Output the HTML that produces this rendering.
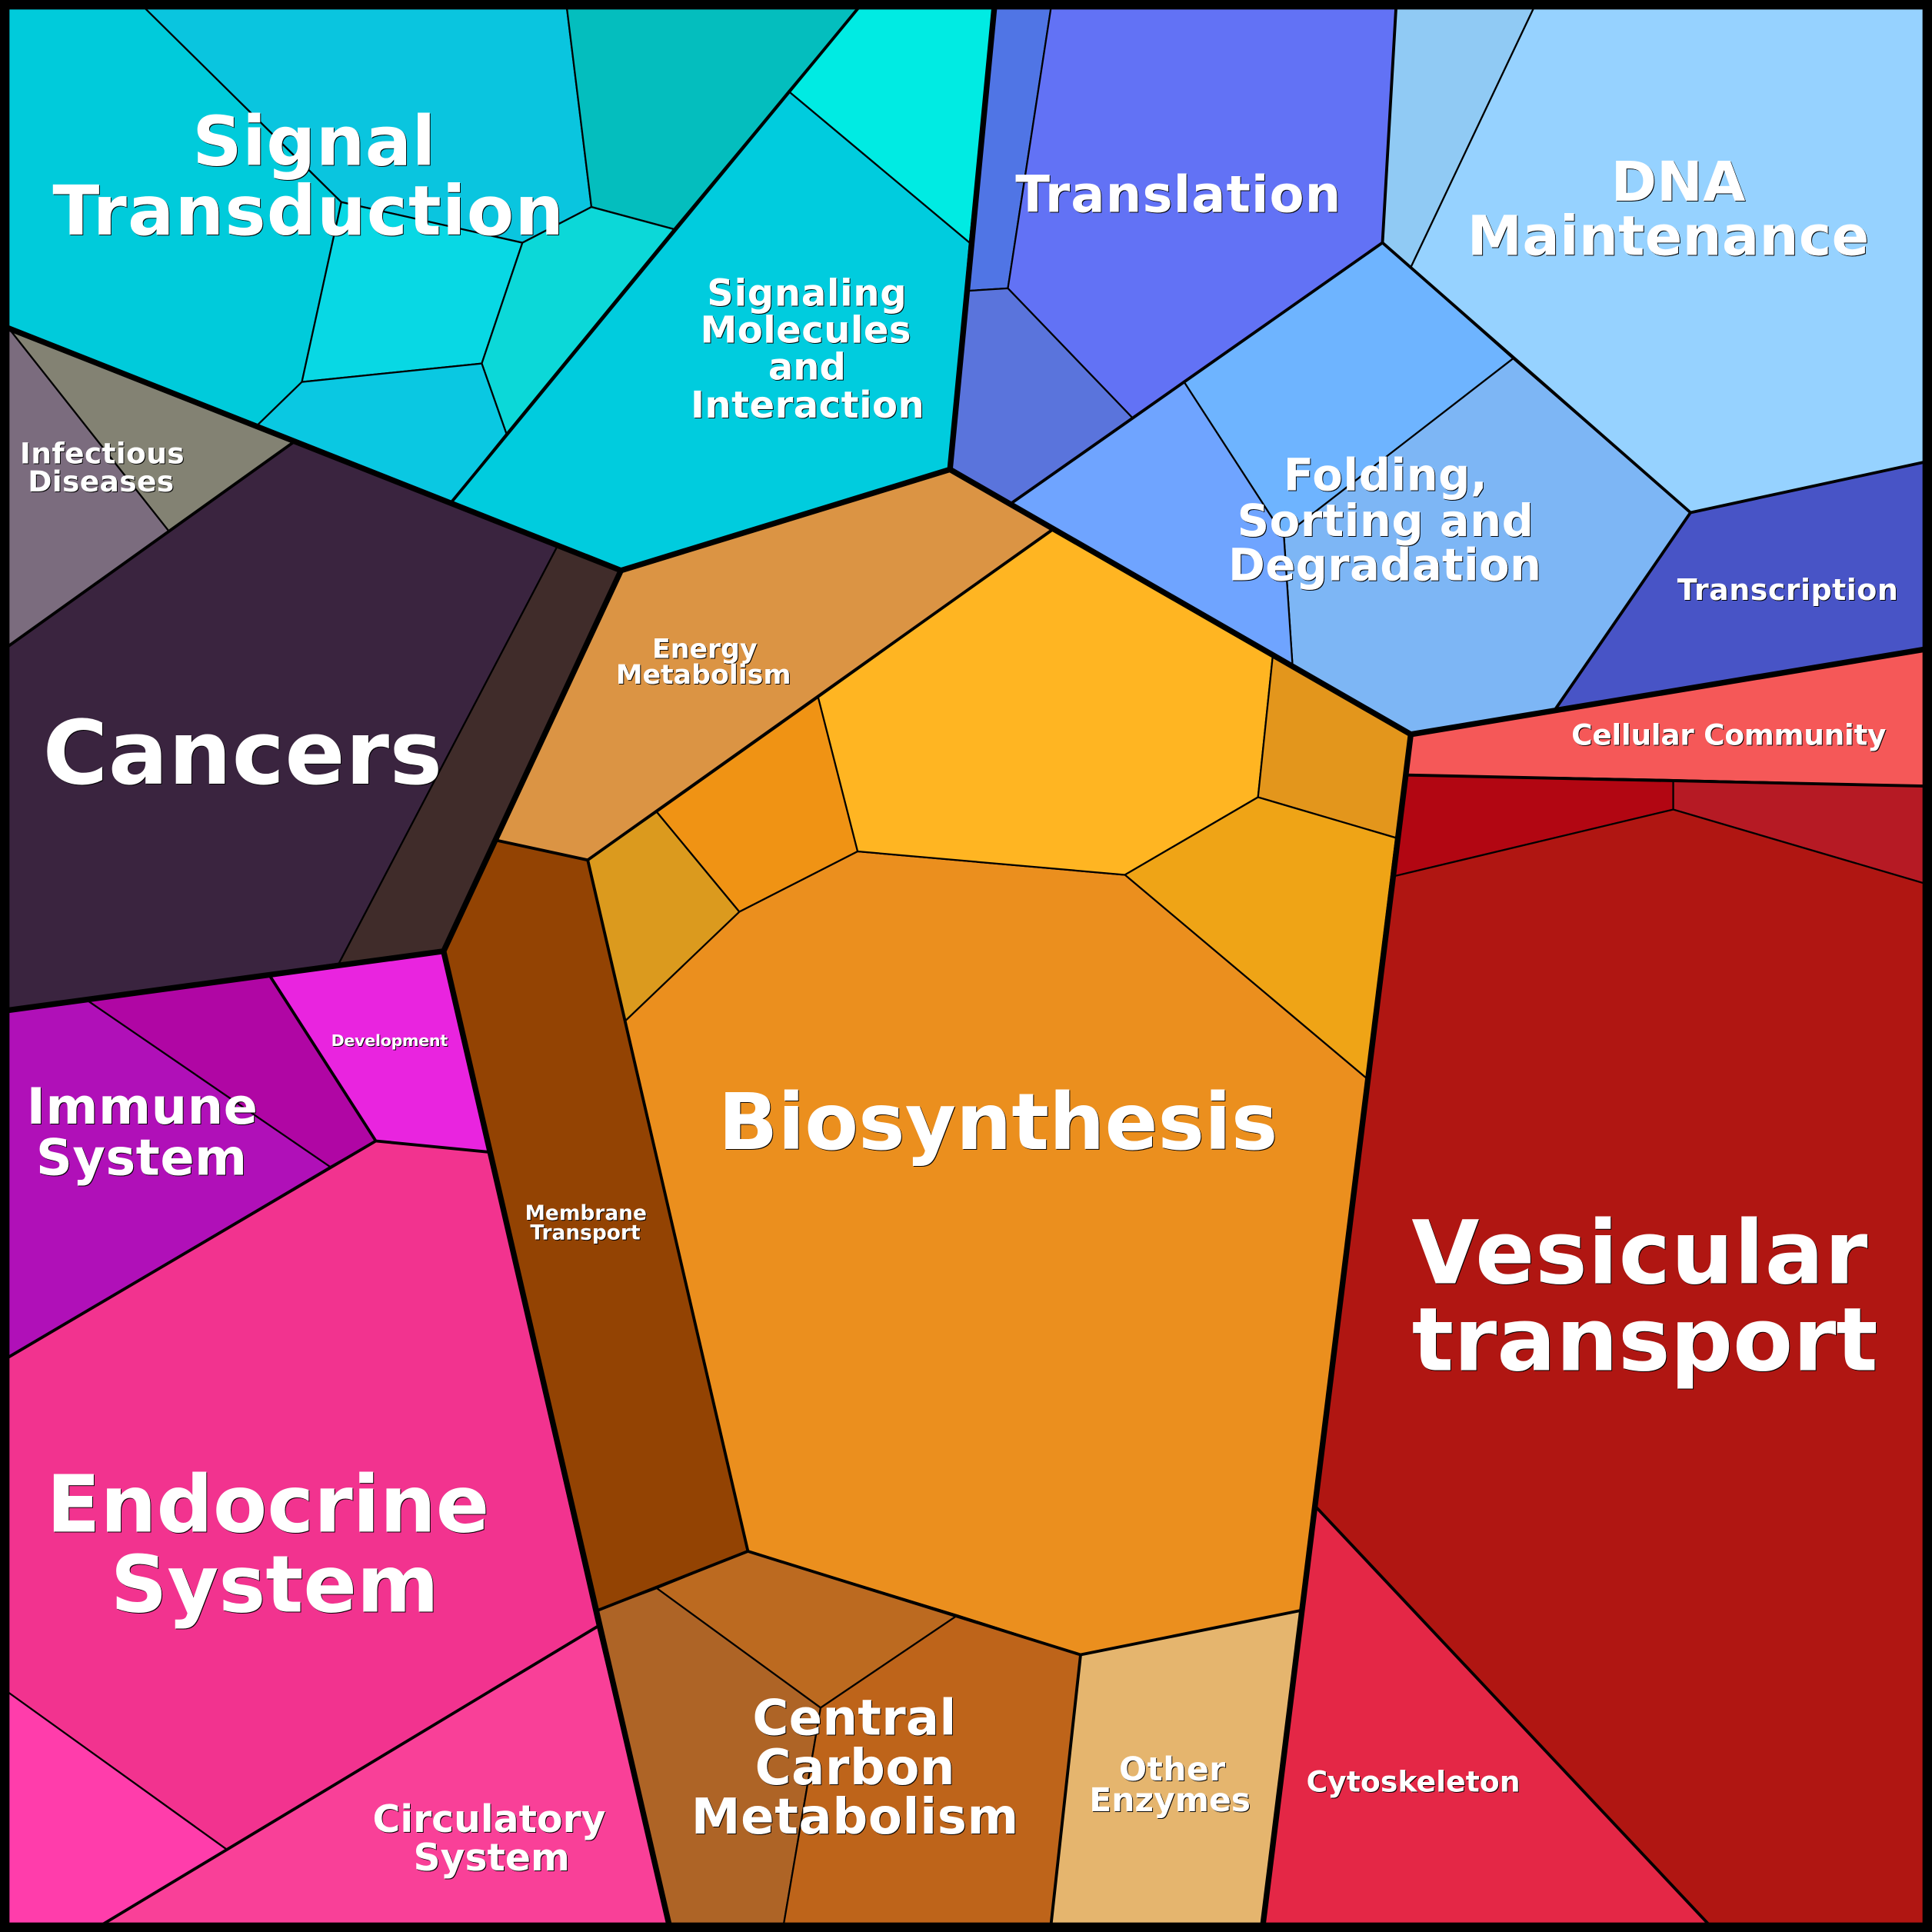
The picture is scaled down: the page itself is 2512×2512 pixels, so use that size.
<!DOCTYPE html>
<html><head><meta charset="utf-8"><style>
html,body{margin:0;padding:0;background:#fff}
svg{display:block}
text{font-family:"DejaVu Sans",sans-serif;font-weight:bold;fill:#fff;text-anchor:middle}
polygon{stroke:#000;stroke-width:1.4;stroke-linejoin:round}
.m{fill:none;stroke:#000;stroke-width:2.4;stroke-linejoin:round}
.t{fill:none;stroke:#000;stroke-width:4.6;stroke-linejoin:round}
</style></head><body>
<svg xmlns="http://www.w3.org/2000/svg" width="2512" height="2512" viewBox="0 0 1568 1568">
<defs>
<filter id="s" filterUnits="userSpaceOnUse" x="0" y="0" width="1568" height="1568" color-interpolation-filters="sRGB">
<feOffset in="SourceAlpha" dx="0.7" dy="0.7" result="o"/>
<feFlood flood-color="#000" flood-opacity="0.95"/>
<feComposite in2="o" operator="in" result="sh"/>
<feMerge><feMergeNode in="sh"/><feMergeNode in="SourceGraphic"/></feMerge>
</filter>
</defs>
<rect width="1568" height="1568" fill="#000"/>
<polygon fill="#00CBDB" points="6,6 117,6 277,164 245,310 209,345 6,266"/>
<polygon fill="#0AC5DF" points="117,6 460,6 480,168 424,197 277,164"/>
<polygon fill="#04BEBE" points="460,6 697,6 547,186 480,168"/>
<polygon fill="#08D8E4" points="277,164 424,197 391,295 245,310"/>
<polygon fill="#0CD8D8" points="480,168 547,186 411,352 391,295 424,197"/>
<polygon fill="#0AC8E2" points="245,310 391,295 411,352 366,408 209,345"/>
<polygon fill="#00CCDE" points="366,408 640,74 787,197 771,381 504,463"/>
<polygon fill="#00EBE3" points="640,74 697,6 807,6 787,197"/>
<polygon fill="#5075E5" points="807,6 853,6 818,234 786,236"/>
<polygon fill="#6272F5" points="853,6 1133,6 1122,197 961,310 919,339 818,234"/>
<polygon fill="#5A74DC" points="786,236 818,234 919,339 820,409 771,381"/>
<polygon fill="#90CAF4" points="1133,6 1245,6 1145,217 1122,197"/>
<polygon fill="#96D2FF" points="1245,6 1562,6 1562,375 1372,416 1228,291 1145,217"/>
<polygon fill="#6EB4FF" points="1122,197 1228,291 1042,435 961,310"/>
<polygon fill="#7DB6F5" points="1228,291 1372,416 1262,576 1145,596 1049,540 1042,435"/>
<polygon fill="#6FA4FF" points="961,310 1042,435 1049,540 854,430 820,409"/>
<polygon fill="#4854C6" points="1372,416 1562,375 1562,527 1262,576"/>
<polygon fill="#F55858" points="1145,596 1562,527 1562,638 1358,633 1142,629"/>
<polygon fill="#B20612" points="1142,629 1358,633 1358,657 1132,711"/>
<polygon fill="#B61A24" points="1358,633 1562,638 1562,717 1358,657"/>
<polygon fill="#B01612" points="1132,711 1358,657 1562,717 1562,1562 1387,1562 1068,1223 1109,875"/>
<polygon fill="#E42746" points="1068,1223 1387,1562 1025,1562 1056,1307"/>
<polygon fill="#EB8F1E" points="507,829 600,740 696,691 913,710 1109,875 1056,1307 877,1343 777,1311 607,1259"/>
<polygon fill="#FFB522" points="664,566 854,430 1033,532 1021,647 913,710 696,691"/>
<polygon fill="#E3961C" points="1033,532 1145,596 1133,680 1021,647"/>
<polygon fill="#EFA416" points="1021,647 1133,680 1109,875 913,710"/>
<polygon fill="#F09314" points="533,659 664,566 696,691 600,740"/>
<polygon fill="#DB9A1E" points="477,698 533,659 600,740 507,829"/>
<polygon fill="#DB9444" points="504,463 771,381 854,430 477,698 403,682"/>
<polygon fill="#934303" points="403,682 477,698 607,1259 485,1307 360,772"/>
<polygon fill="#BC6A20" points="533,1289 607,1259 777,1311 666,1386"/>
<polygon fill="#AE6426" points="485,1307 533,1289 666,1386 636,1562 543,1562"/>
<polygon fill="#BE641A" points="666,1386 777,1311 877,1343 853,1562 636,1562"/>
<polygon fill="#E5B56E" points="877,1343 1056,1307 1025,1562 853,1562"/>
<polygon fill="#F2338F" points="6,1102 268,947 305,926 397,935 485,1320 184,1501 6,1373"/>
<polygon fill="#FF3DAB" points="6,1373 184,1501 83,1562 6,1562"/>
<polygon fill="#F94098" points="184,1501 485,1320 543,1562 83,1562"/>
<polygon fill="#B010B8" points="6,820 71,812 268,947 6,1102"/>
<polygon fill="#B006A4" points="71,812 219,792 305,926 268,947"/>
<polygon fill="#E924DF" points="219,792 360,772 397,935 305,926"/>
<polygon fill="#3A243F" points="6,525 137,431 238,359 452,444 275,782 6,820"/>
<polygon fill="#402C2A" points="452,444 504,463 360,772 275,782"/>
<polygon fill="#7B6C7E" points="6,265 137,431 6,525"/>
<polygon fill="#838273" points="6,265 238,359 137,431"/>
<g class="m">
<path class="m" d="M366,408 L697,6"/>
<path class="m" d="M1133,6 L1122,197 L961,310 L820,409"/>
<path class="m" d="M1122,197 L1372,416 L1562,375"/>
<path class="m" d="M1372,416 L1262,576"/>
<path class="m" d="M1142,629 L1562,638"/>
<path class="m" d="M1068,1223 L1387,1562"/>
<path class="m" d="M403,682 L477,698 L854,430"/>
<path class="m" d="M477,698 L607,1259 L485,1307"/>
<path class="m" d="M607,1259 L877,1343 L1056,1307"/>
<path class="m" d="M877,1343 L853,1562"/>
<path class="m" d="M6,525 L238,359"/>
<path class="m" d="M219,792 L305,926 L397,935"/>
<path class="m" d="M305,926 L6,1102"/>
<path class="m" d="M485,1320 L83,1562"/>
</g>
<path class="t" d="M6,266 L504,463 L771,381 L807,6"/>
<path class="t" d="M771,381 L1145,596 L1562,527"/>
<path class="t" d="M1145,596 L1025,1562"/>
<path class="t" d="M504,463 L360,772 L6,820"/>
<path class="t" d="M360,772 L543,1562"/>
<rect x="3.85" y="3.85" width="1560.3" height="1560.3" fill="none" stroke="#000" stroke-width="7.7"/>
<g filter="url(#s)">
<text x="255" y="134" font-size="55.8" letter-spacing=".3">Signal</text>
<text x="250.500" y="190.500" font-size="55.8" letter-spacing=".75">Transduction</text>
<text x="655" y="248" font-size="30" letter-spacing=".45">Signaling</text>
<text x="654" y="278" font-size="30" letter-spacing=".3">Molecules</text>
<text x="655" y="308" font-size="30">and</text>
<text x="655.500" y="339" font-size="30" letter-spacing=".3">Interaction</text>
<text x="956.500" y="172" font-size="41" letter-spacing=".65">Translation</text>
<text x="1362" y="163" font-size="44.700">DNA</text>
<text x="1354" y="207" font-size="44.700" letter-spacing=".2">Maintenance</text>
<text x="1124.500" y="398" font-size="36" letter-spacing=".3">Folding,</text>
<text x="1124.500" y="435" font-size="36" letter-spacing=".3">Sorting and</text>
<text x="1124" y="471" font-size="36" letter-spacing=".2">Degradation</text>
<text x="1451" y="487" font-size="23.700" letter-spacing=".3">Transcription</text>
<text x="1403" y="604.500" font-size="23.400" letter-spacing="-.2">Cellular Community</text>
<text x="83" y="376" font-size="23.500" letter-spacing=".2">Infectious</text>
<text x="82" y="399" font-size="23.500" letter-spacing=".2">Diseases</text>
<text x="197" y="636" font-size="72" letter-spacing=".3">Cancers</text>
<text x="572" y="534" font-size="21.700">Energy</text>
<text x="571" y="555" font-size="21.700">Metabolism</text>
<text x="810" y="932.500" font-size="63.500">Biosynthesis</text>
<text x="1331" y="1041.500" font-size="71" letter-spacing=".55">Vesicular</text>
<text x="1335" y="1112" font-size="71">transport</text>
<text x="316" y="849" font-size="12.900" letter-spacing="-.2">Development</text>
<text x="115.500" y="912" font-size="40.800" letter-spacing=".3">Immune</text>
<text x="115" y="953.500" font-size="40.800" letter-spacing=".25">System</text>
<text x="475.500" y="990" font-size="16.500">Membrane</text>
<text x="475" y="1006" font-size="16.500">Transport</text>
<text x="217.500" y="1243" font-size="64">Endocrine</text>
<text x="223" y="1308" font-size="64">System</text>
<text x="397" y="1487" font-size="30.500">Circulatory</text>
<text x="399" y="1518" font-size="30.500">System</text>
<text x="693.500" y="1408" font-size="40" letter-spacing=".15">Central</text>
<text x="694" y="1448" font-size="40" letter-spacing=".3">Carbon</text>
<text x="694" y="1488" font-size="40" letter-spacing=".4">Metabolism</text>
<text x="951.500" y="1445" font-size="26.500" letter-spacing=".3">Other</text>
<text x="949.500" y="1470" font-size="26.500">Enzymes</text>
<text x="1147" y="1454" font-size="23.600">Cytoskeleton</text>
</g>
</svg>
</body></html>
